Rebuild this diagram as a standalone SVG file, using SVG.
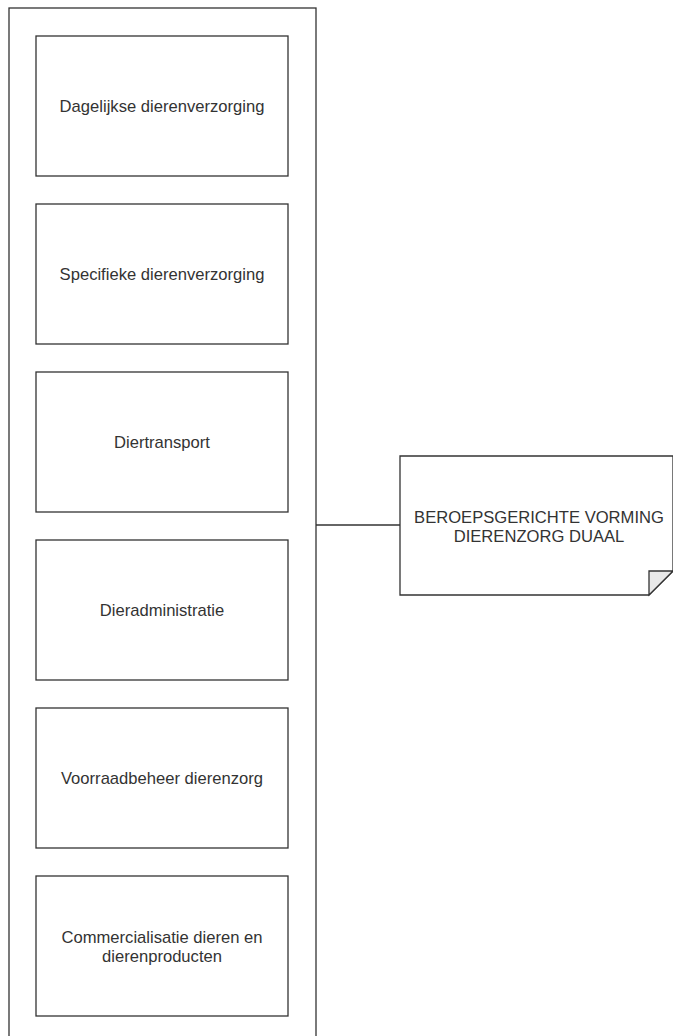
<svg xmlns="http://www.w3.org/2000/svg" width="673" height="1036" viewBox="0 0 673 1036">
<style>
.box{fill:#fff;stroke:#333;stroke-width:1.3}
.t{font-family:"Liberation Sans",Arial,sans-serif;font-size:16.6px;fill:#333;text-anchor:middle}
.c{stroke:#333;stroke-width:1.3;fill:none}
</style>
<rect width="673" height="1036" fill="#fff"/>
<g id="container"><rect class="box" x="9" y="8" width="307" height="1040"/></g>
<g id="n1"><rect class="box" x="36" y="36" width="252" height="140"/><text class="t" x="162" y="112">Dagelijkse dierenverzorging</text></g>
<g id="n2"><rect class="box" x="36" y="204" width="252" height="140"/><text class="t" x="162" y="280">Specifieke dierenverzorging</text></g>
<g id="n3"><rect class="box" x="36" y="372" width="252" height="140"/><text class="t" x="162" y="448">Diertransport</text></g>
<g id="n4"><rect class="box" x="36" y="540" width="252" height="140"/><text class="t" x="162" y="616">Dieradministratie</text></g>
<g id="n5"><rect class="box" x="36" y="708" width="252" height="140"/><text class="t" x="162" y="784">Voorraadbeheer dierenzorg</text></g>
<g id="n6"><rect class="box" x="36" y="876" width="252" height="140"/><text class="t" x="162" y="943">Commercialisatie dieren en</text><text class="t" x="162" y="962">dierenproducten</text></g>
<g id="connectors"><line class="c" x1="316" y1="525" x2="400" y2="525"/></g>
<g id="note">
<path class="box" d="M400,456 H673 V571 L649,595 H400 Z"/>
<path d="M673,571 L649,571 L649,595 Z" fill="#e8e8e8" stroke="#333" stroke-width="1.3"/>
<text class="t" x="539" y="523">BEROEPSGERICHTE VORMING</text>
<text class="t" x="539" y="542">DIERENZORG DUAAL</text>
</g>
</svg>
